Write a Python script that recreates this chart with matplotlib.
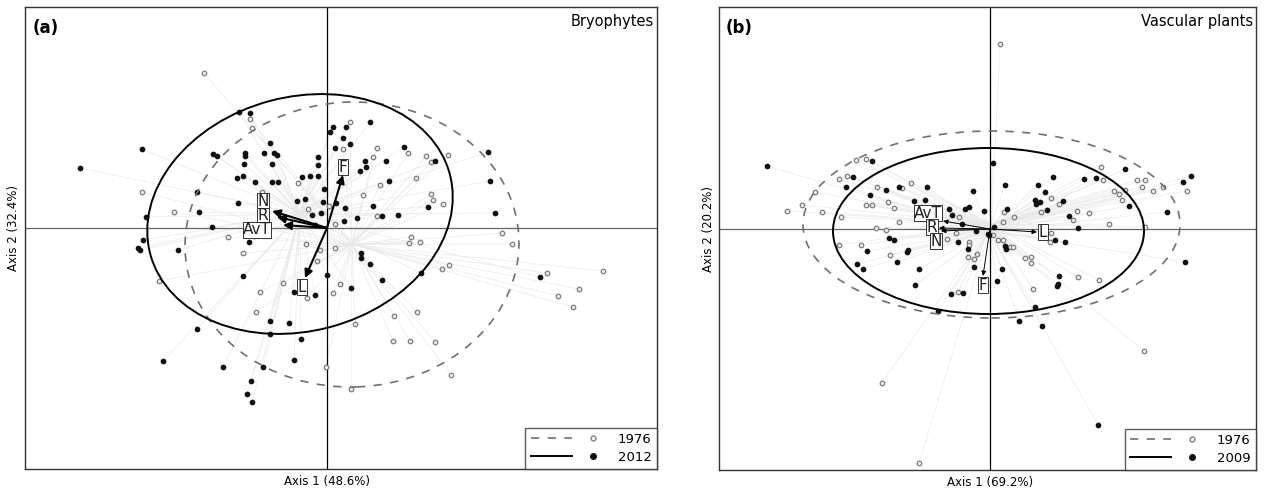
import numpy as np
import matplotlib
matplotlib.use("Agg")
import matplotlib.pyplot as plt
from matplotlib.patches import Ellipse
from matplotlib.lines import Line2D
from matplotlib.legend_handler import HandlerTuple
import matplotlib.transforms as mtrans

# ---- panel (a): bryophytes, site scores ----
a_x_2012 = [-2.47, -1.85, -0.88, -0.77, -1.14, -1.10, -0.82, -0.82, -0.63, -0.53, -0.50, -0.57,
            -0.83, -0.55, -0.09, -0.09, -0.90, -0.84, -0.72, -0.55, -0.49, -0.25, -0.17, -0.09,
            -1.30, -0.89, -0.30, -0.22, -0.03, -0.04, -1.81, -1.28, -1.15, -0.15, -0.06,
            -1.84, -1.89, -1.87, -1.49, -0.78, -0.84, -0.33, -0.12, 0.00, -0.57, -0.38, -0.57,
            -0.26, -1.30, -1.64, -1.04, -0.64, -0.33, -0.76, -0.80, -0.75, 0.43, 0.06, 0.03,
            0.19, 0.16, 0.23, 0.08, 0.38, 0.39, 0.33, 0.59, 0.77, 1.08, 1.61, 1.63, 1.68, 0.09,
            0.18, 0.46, 0.55, 0.71, 1.01, 0.17, 0.30, 0.62, 0.34, 0.34, 0.43, 0.55, 0.94, 0.24,
            2.13, -0.12]
a_y_2012 = [0.60, 0.79, 1.16, 1.15, 0.74, 0.72, 0.75, 0.72, 0.75, 0.75, 0.73, 0.85,
            0.64, 0.64, 0.71, 0.63, 0.50, 0.52, 0.46, 0.46, 0.46, 0.51, 0.52, 0.52,
            0.36, 0.25, 0.27, 0.29, 0.39, 0.26, 0.11, 0.16, 0.01, 0.13, 0.15,
            -0.12, -0.20, -0.22, -0.22, -0.14, -0.48, -0.64, -0.67, -0.47, -0.93, -0.95, -1.06,
            -1.11, -1.01, -1.33, -1.39, -1.39, -1.32, -1.53, -1.66, -1.74, 1.06, 1.01, 0.96,
            1.01, 0.90, 0.84, 0.80, 0.67, 0.61, 0.57, 0.67, 0.81, 0.67, 0.76, 0.47, 0.15, 0.25,
            0.20, 0.22, 0.12, 0.13, 0.21, 0.07, 0.10, 0.47, -0.25, -0.30, -0.36, -0.52, -0.45, -0.60,
            -0.49, 0.03]
a_x_1976 = [-1.23, -0.77, -0.75, -1.85, -1.53, -0.65, -0.29, -0.19, -0.99, -0.73, -0.84, -1.68,
            -0.67, -0.44, -0.21, -0.10, -0.20, -0.07, -0.71, -0.01, 0.23, 0.16, 0.50, 0.46, 0.81,
            0.99, 1.04, 1.21, 0.89, 0.53, 0.36, 1.04, 1.06, 1.16, 0.50, 0.02, 0.08, 1.75, 0.84,
            0.82, 0.93, 0.08, 1.22, 1.15, 0.13, 0.06, 1.85, 2.20, 2.76, 2.52, 2.31, 2.46, 0.67,
            0.90, 0.28, 0.66, 0.83, 1.08, 1.24, 0.24]
a_y_1976 = [1.55, 1.09, 1.00, 0.36, 0.16, 0.36, 0.45, 0.19, -0.09, -0.08, -0.25, -0.53,
            -0.64, -0.55, -0.16, -0.33, -0.70, -0.22, -0.84, -1.39, 1.06, 0.79, 0.80, 0.71, 0.75,
            0.72, 0.66, 0.73, 0.50, 0.43, 0.33, 0.34, 0.28, 0.24, 0.12, 0.22, 0.04, -0.05, -0.09,
            -0.15, -0.14, -0.20, -0.37, -0.41, -0.56, -0.65, -0.16, -0.45, -0.43, -0.61, -0.68, -0.79, -0.88,
            -0.84, -0.96, -1.13, -1.13, -1.14, -1.47, -1.61]
# group ellipses: centre x, centre y, semi-axis 1, semi-axis 2, angle (deg)
a_ell_1976 = [0.25, -0.165, 1.67, 1.425, 2]
a_ell_2012 = [-0.27, 0.14, 1.55, 1.17, 15]
a_vec_names = ["N", "R", "AvT", "F", "L"]
a_vec_x = [-0.55, -0.50, -0.44, 0.16, -0.22]
a_vec_y = [0.17, 0.11, 0.03, 0.53, -0.50]
a_lab_x = [-0.64, -0.64, -0.70, 0.16, -0.25]
a_lab_y = [0.27, 0.12, -0.02, 0.61, -0.59]

# ---- panel (b): vascular plants, site scores ----
b_x_2009 = [-2.23, -1.18, -1.37, -1.44, -1.20, -1.04, -0.91, -0.63, -0.76, -0.65, -0.41, -0.25,
            -0.21, -0.38, -0.28, -0.17, -0.06, 0.03, -0.14, 0.04, -0.01, -0.32, -1.01, -0.96,
            -1.23, -0.83, -0.82, -1.33, -1.27, -0.93, -0.71, -0.22, -0.16, -0.75, -0.39, -0.27,
            -0.52, 0.07, 0.15, 0.48, 0.63, 0.55, 0.45, 0.50, 0.46, 0.73, 0.57, 0.17, 0.79, 0.88,
            0.94, 1.06, 1.35, 1.39, 1.77, 1.93, 2.01, 0.15, 0.16, 0.65, 0.75, 0.12, 0.69, 0.67,
            0.68, 0.45, 0.29, 0.52, 1.95, 1.08, -0.02]
b_y_2009 = [0.63, 0.68, 0.52, 0.42, 0.34, 0.39, 0.42, 0.42, 0.28, 0.29, 0.20, 0.20,
            0.22, 0.14, 0.05, 0.38, 0.18, 0.66, -0.02, 0.02, -0.06, -0.13, -0.09, -0.11,
            -0.22, -0.23, -0.21, -0.35, -0.40, -0.33, -0.40, -0.20, -0.38, -0.56, -0.65, -0.64,
            -0.82, -0.52, 0.44, 0.44, 0.52, 0.37, 0.29, 0.27, 0.25, 0.28, 0.19, 0.20, 0.13, 0.01,
            0.50, 0.51, 0.60, 0.23, 0.17, 0.47, 0.53, -0.17, -0.20, -0.11, -0.13, -0.40, -0.47, -0.57,
            -0.55, -0.78, -0.92, -0.97, -0.33, -1.96, -0.05]
b_x_1976 = [-2.03, -1.88, -1.68, -1.75, -1.51, -1.43, -1.34, -1.24, -1.49, -1.13, -0.88, -0.79,
            -1.02, -0.96, -1.24, -1.18, -0.91, -1.14, -1.04, -1.51, -1.29, -1.00, -0.43, -0.34,
            -0.31, -0.21, -0.21, -0.13, -0.16, -0.22, -0.32, 0.03, 0.08, 0.13, -1.08, -0.71,
            0.10, 1.11, 1.13, 1.47, 1.55, 1.52, 1.63, 1.73, 1.97, 1.24, 1.29, 1.35, 1.32, 0.61,
            0.69, 0.51, 0.87, 0.99, 0.83, 1.19, 0.14, 0.13, 0.24, 1.55, 0.61, 0.60, 0.20, 0.23,
            0.35, 0.41, 0.41, 0.88, 1.09, 0.43, 1.54]
b_y_1976 = [0.18, 0.24, 0.17, 0.37, 0.50, 0.53, 0.69, 0.70, 0.12, 0.42, 0.41, 0.46,
            0.27, 0.21, 0.24, 0.24, 0.07, 0.01, -0.01, -0.16, -0.16, -0.26, -0.10, -0.04,
            0.12, -0.13, -0.16, -0.25, -0.30, -0.28, -0.63, -0.06, -0.11, -0.11, -1.54, -2.34,
            1.85, 0.62, 0.49, 0.49, 0.49, 0.42, 0.38, 0.42, 0.38, 0.38, 0.35, 0.39, 0.29, 0.31,
            0.25, 0.17, 0.18, 0.16, 0.09, 0.05, 0.17, 0.07, 0.12, 0.02, -0.04, -0.13, -0.18, -0.18,
            -0.29, -0.28, -0.34, -0.48, -0.51, -0.60, -1.22]
b_ell_1976 = [0.015, 0.045, 1.885, 0.935, 0]
b_ell_2009 = [-0.015, -0.02, 1.555, 0.83, 0]
b_vec_names = ["AvT", "R", "N", "F", "L"]
b_vec_x = [-0.47, -0.51, -0.49, -0.07, 0.47]
b_vec_y = [0.08, 0.01, -0.02, -0.47, -0.03]
b_lab_x = [-0.62, -0.58, -0.54, -0.07, 0.53]
b_lab_y = [0.16, 0.02, -0.12, -0.56, -0.03]

GREY = "#808080"
SPIDER = "#e8e8e8"


def spider_and_ellipse(ax, x, y, ell, dashed, col):
    cx, cy, a, b, ang = ell
    for xi, yi in zip(x, y):
        ax.plot([cx, xi], [cy, yi], color=SPIDER, lw=0.45, zorder=1)
    e = Ellipse((cx, cy), 2 * a, 2 * b, angle=ang, fill=False, edgecolor=col,
                lw=1.2 if dashed else 1.4, linestyle=(0, (5, 5)) if dashed else "-", zorder=4)
    ax.add_patch(e)


def panel(ax, x_old, y_old, ell_old, x_new, y_new, ell_new, names, vx, vy, lx, ly, lims,
          tag, title, xlab, ylab, new_year, arrow_lw, head):
    ax.set_xlim(lims[0], lims[1])
    ax.set_ylim(lims[2], lims[3])
    ax.set_xticks([])
    ax.set_yticks([])
    for s in ax.spines.values():
        s.set_color("#333333")
        s.set_linewidth(1.0)
    ax.axhline(0, color="#666666", lw=0.9, zorder=2)
    ax.axvline(0, color="black", lw=0.9, zorder=2)

    spider_and_ellipse(ax, x_old, y_old, ell_old, True, "#707070")
    spider_and_ellipse(ax, x_new, y_new, ell_new, False, "black")

    ax.scatter(x_old, y_old, s=10, facecolors="white", edgecolors=GREY, linewidths=1.0, zorder=3)
    ax.scatter(x_new, y_new, s=17, color="#111111", linewidths=0, zorder=3)

    for n, x1, y1, tx, ty in zip(names, vx, vy, lx, ly):
        ax.annotate("", xy=(x1, y1), xytext=(0, 0),
                    arrowprops=dict(arrowstyle="-|>", color="black", lw=arrow_lw,
                                    mutation_scale=head, shrinkA=0, shrinkB=0), zorder=5)
        ax.text(tx, ty, n, ha="center", va="center", fontsize=11, color="#222222", zorder=6,
                bbox=dict(boxstyle="square,pad=0.02", fc="white", ec="#333333", lw=0.7))

    ax.text(0.012, 0.975, tag, transform=ax.transAxes, ha="left", va="top",
            fontsize=12, fontweight="bold")
    ax.text(0.995, 0.985, title, transform=ax.transAxes, ha="right", va="top", fontsize=10.5)

    tx = mtrans.blended_transform_factory(ax.transData, ax.transAxes)
    ax.text(0, -0.012, xlab, transform=tx, ha="center", va="top", fontsize=8.5)
    ty = mtrans.blended_transform_factory(ax.transAxes, ax.transData)
    ax.text(-0.008, 0, ylab, transform=ty, ha="right", va="center", rotation=90, fontsize=8.5)

    h_old = (Line2D([], [], color="#707070", lw=1.2, linestyle=(0, (5, 5))),
             Line2D([], [], ls="none", marker="o", ms=3.5, mfc="white", mec=GREY, mew=1.0))
    h_new = (Line2D([], [], color="black", lw=1.4),
             Line2D([], [], ls="none", marker="o", ms=4, mfc="#111111", mec="#111111"))
    leg = ax.legend([h_old, h_new], ["1976", new_year], loc="lower right",
                    handler_map={tuple: HandlerTuple(ndivide=2, pad=0.0)},
                    handlelength=6.3, handletextpad=0.3, fontsize=9.5, frameon=True,
                    fancybox=False, borderaxespad=0.0, borderpad=0.4, labelspacing=0.35)
    leg.get_frame().set_edgecolor("#333333")
    leg.get_frame().set_linewidth(1.0)
    leg.set_zorder(7)


fig = plt.figure(figsize=(12.66, 4.90), dpi=100)
ax1 = fig.add_axes([25 / 1266, 21 / 490, 632 / 1266, 462 / 490])
ax2 = fig.add_axes([719 / 1266, 20 / 490, 537 / 1266, 463 / 490])

panel(ax1, a_x_1976, a_y_1976, a_ell_1976, a_x_2012, a_y_2012, a_ell_2012,
      a_vec_names, a_vec_x, a_vec_y, a_lab_x, a_lab_y, (-3.02, 3.30, -2.41, 2.21),
      "(a)", "Bryophytes", "Axis 1 (48.6%)", "Axis 2 (32.4%)", "2012", 1.5, 12)
panel(ax2, b_x_1976, b_y_1976, b_ell_1976, b_x_2009, b_y_2009, b_ell_2009,
      b_vec_names, b_vec_x, b_vec_y, b_lab_x, b_lab_y, (-2.71, 2.66, -2.41, 2.22),
      "(b)", "Vascular plants", "Axis 1 (69.2%)", "Axis 2 (20.2%)", "2009", 0.7, 7)

fig.savefig("out.png", dpi=100)
